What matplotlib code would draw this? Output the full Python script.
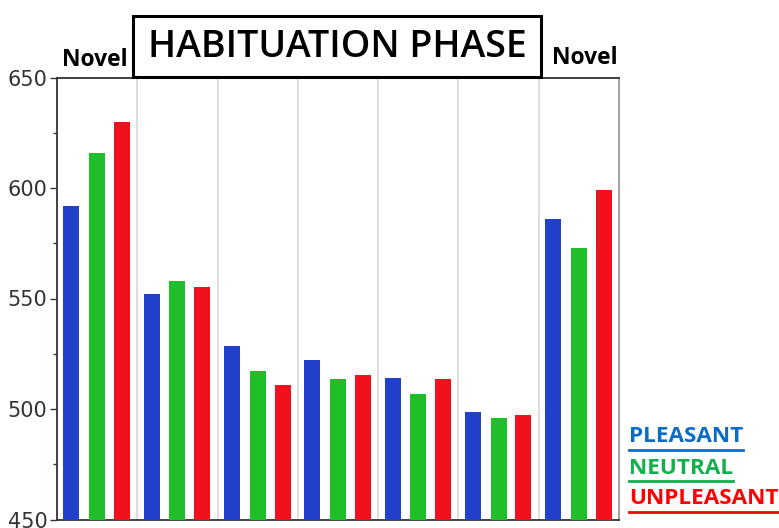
import numpy as np
import matplotlib
matplotlib.use("Agg")
import matplotlib.pyplot as plt
from matplotlib.lines import Line2D
from matplotlib.patches import Rectangle
from matplotlib.ticker import MultipleLocator

# bar heights, one value per block of trials
pleasant = [592, 552, 528.5, 522, 514, 498.5, 586]
neutral = [616, 558, 517, 513.5, 507, 496, 573]
unpleasant = [630, 555, 511, 515.5, 513.5, 497.5, 599]
legend_labels = ["PLEASANT", "NEUTRAL", "UNPLEASANT"]
y_ticks = [450, 500, 550, 600, 650]

bar_colors = ["#2141cc", "#1fbf2a", "#f0101e"]
legend_colors = ["#0a6cc4", "#12b04a", "#ff0000"]

fig = plt.figure(figsize=(7.79, 5.28), dpi=100)
ax = fig.add_axes([57 / 779, 8.5 / 528, 562 / 779, 442 / 528])

x = np.arange(len(pleasant))
w = 0.2
for off, vals, col in zip([-0.32, 0.0, 0.31], [pleasant, neutral, unpleasant], bar_colors):
    ax.bar(x + off, np.array(vals) - 450, bottom=450, width=w, color=col, zorder=3)

ax.set_xlim(-0.5, len(pleasant) - 0.5)
ax.set_ylim(450, 650)
ax.set_yticks(y_ticks)
ax.yaxis.set_minor_locator(MultipleLocator(25))
ax.set_xticks([])
for b in np.arange(0.5, len(pleasant) - 0.5):
    ax.axvline(b, color="#d8d8d8", lw=1.2, zorder=1)

ax.tick_params(axis="y", which="major", length=5, width=1, labelsize=15,
               labelcolor="#333333", color="#333333", pad=2)
ax.tick_params(axis="y", which="minor", length=3, width=1, color="#333333")
for s in ["left", "bottom", "top"]:
    ax.spines[s].set_color("#333333")
    ax.spines[s].set_linewidth(1.3)
ax.spines["right"].set_color("#999999")
ax.spines["right"].set_linewidth(1.3)

# title box
fig.add_artist(Rectangle((133 / 779, 1 - 77 / 528), 408 / 779, 61 / 528,
                         transform=fig.transFigure, fill=False,
                         edgecolor="black", lw=2.2))
fig.text(337 / 779, 1 - 47 / 528, "HABITUATION PHASE", ha="center", va="center",
         fontsize=27, family="Open Sans", fontweight="semibold")
fig.text(95 / 779, 1 - 60 / 528, "Novel", ha="center", va="center",
         fontsize=16.5, family="Open Sans", fontweight="bold")
fig.text(585 / 779, 1 - 58 / 528, "Novel", ha="center", va="center",
         fontsize=16.5, family="Open Sans", fontweight="bold")

# legend text with underlines
fig.canvas.draw()
renderer = fig.canvas.get_renderer()
for i, (lab, col) in enumerate(zip(legend_labels, legend_colors)):
    ypix = 437 + i * 31
    t = fig.text(629 / 779, 1 - ypix / 528, lab, ha="left", va="center",
                 fontsize=16.2, family="Open Sans", fontweight="bold", color=col)
    bb = t.get_window_extent(renderer=renderer)
    yl = 1 - (ypix + 13) / 528
    fig.add_artist(Line2D([bb.x0 / 779, bb.x1 / 779], [yl, yl],
                          transform=fig.transFigure, color=col, lw=2))

fig.savefig("out.png", dpi=100)
